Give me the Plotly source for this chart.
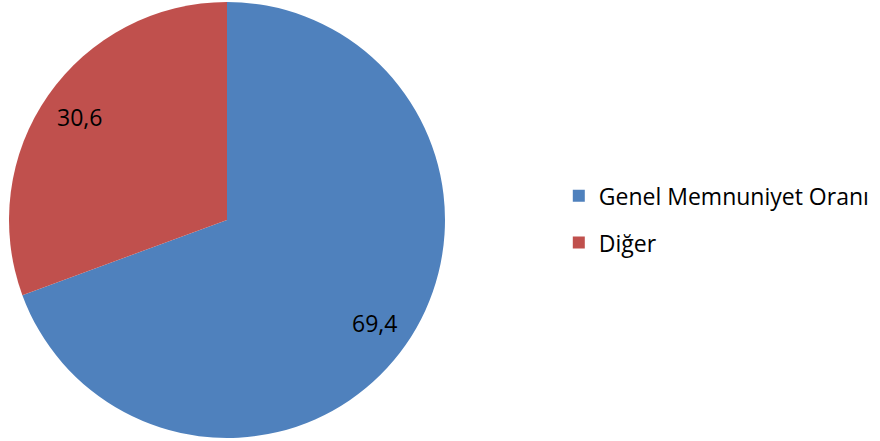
import math
import plotly.graph_objects as go

labels = ["Genel Memnuniyet Oranı", "Diğer"]
values = [69.4, 30.6]
colors = ["#4F81BD", "#C0504D"]
text_labels = ["69,4", "30,6"]

W, H = 880, 441
FONT = "Open Sans"
dom_x = [9 / W, 445 / W]
dom_y = [1 - 438 / H, 1 - 2 / H]

fig = go.Figure()
fig.add_trace(go.Pie(
    labels=labels, values=values, sort=False, direction="clockwise", rotation=0,
    marker=dict(colors=colors, line=dict(width=0)),
    textinfo="none", showlegend=False, hoverinfo="label+value",
    domain=dict(x=dom_x, y=dom_y),
))

# legend entries
for lab, col in zip(labels, colors):
    fig.add_trace(go.Scatter(
        x=[None], y=[None], mode="markers", name=lab, legendgroup=lab,
        marker=dict(symbol="square", size=16, color=col),
    ))

# data labels placed along each slice's mid-angle
cx = (dom_x[0] + dom_x[1]) / 2
cy = (dom_y[0] + dom_y[1]) / 2
r_px = min((dom_x[1] - dom_x[0]) * W, (dom_y[1] - dom_y[0]) * H) / 2
total = sum(values)
cum = 0
for v, t in zip(values, text_labels):
    mid = (cum + v / 2) / total * 2 * math.pi
    cum += v
    rr = 0.825 * r_px
    fig.add_annotation(
        x=cx + rr * math.sin(mid) / W, y=cy + rr * math.cos(mid) / H,
        xref="paper", yref="paper", text=t, showarrow=False,
        xanchor="center", yanchor="middle",
        font=dict(family=FONT, size=23, color="black"),
    )

fig.update_layout(
    width=W, height=H, margin=dict(l=0, r=0, t=0, b=0),
    paper_bgcolor="white", plot_bgcolor="white",
    xaxis=dict(visible=False), yaxis=dict(visible=False),
    legend=dict(x=0.635, y=0.605, xanchor="left", yanchor="top",
                font=dict(family=FONT, size=23, color="black"),
                itemsizing="constant", tracegroupgap=14),
)
fig.write_html("out.html", config={"displayModeBar": False},
               post_script="document.body.style.margin='0px';")
